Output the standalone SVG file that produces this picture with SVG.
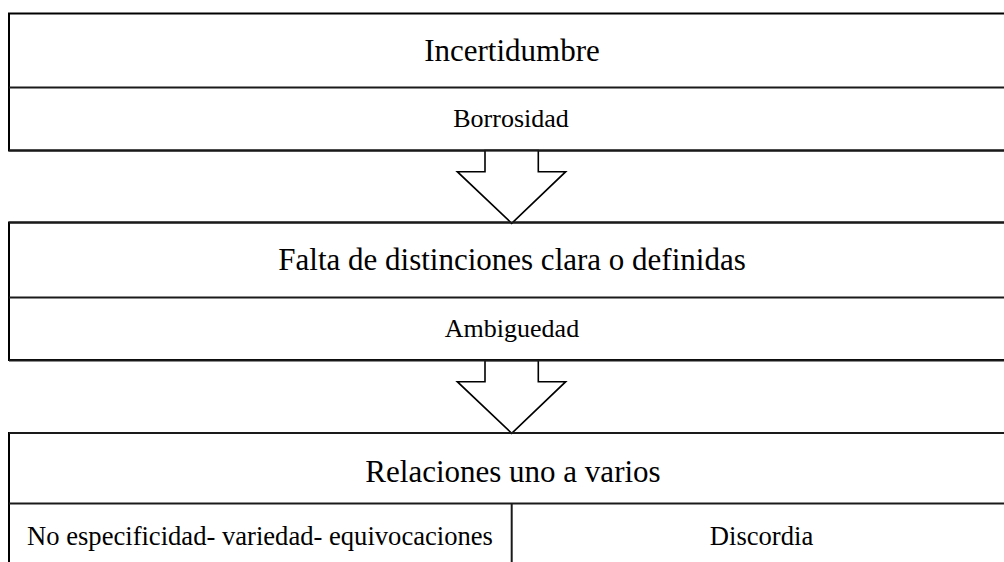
<svg xmlns="http://www.w3.org/2000/svg" width="1004" height="562" viewBox="0 0 1004 562">
<style>
.box{fill:#fff;stroke:#000;stroke-width:2}
.div{stroke:#1a1a1a;stroke-width:2;fill:none}
.arr{fill:#fff;stroke:#000;stroke-width:1.6;stroke-linejoin:miter}
.big{font-family:"Liberation Serif","Times New Roman",serif;font-size:31px;fill:#000;text-anchor:middle}
.small{font-family:"Liberation Serif","Times New Roman",serif;font-size:26px;fill:#000;text-anchor:middle}
.cell{font-family:"Liberation Serif","Times New Roman",serif;font-size:26.6px;fill:#000;text-anchor:middle}
</style>
<rect width="1004" height="562" fill="#fff"/>
<g id="node-incertidumbre">
<rect class="box" x="9" y="13.5" width="1006" height="137"/>
<line class="div" x1="9" y1="87.5" x2="1015" y2="87.5"/>
<text class="big" x="512" y="60.7">Incertidumbre</text>
<text class="small" x="511" y="126.7">Borrosidad</text>
</g>
<g id="node-falta">
<rect class="box" x="9" y="222.5" width="1006" height="137.5"/>
<line class="div" x1="9" y1="297.5" x2="1015" y2="297.5"/>
<text class="big" x="512" y="270">Falta de distinciones clara o definidas</text>
<text class="small" x="512" y="336.5">Ambiguedad</text>
</g>
<g id="node-relaciones">
<rect class="box" x="9" y="433" width="1006" height="150"/>
<line class="div" x1="9" y1="503.5" x2="1015" y2="503.5"/>
<line class="div" x1="511.7" y1="503.5" x2="511.7" y2="570"/>
<text class="big" x="513" y="481.5">Relaciones uno a varios</text>
<text class="cell" x="260" y="545">No especificidad- variedad- equivocaciones</text>
<text class="cell" x="761.5" y="545">Discordia</text>
</g>
<g id="connectors">
<polygon class="arr" points="485,150.5 538.3,150.5 538.3,171.7 565.7,171.7 511.7,223.3 457.3,171.7 485,171.7"/>
<polygon class="arr" points="485,360.5 538.3,360.5 538.3,381.7 565.7,381.7 511.7,433.3 457.3,381.7 485,381.7"/>
<line class="div" x1="9" y1="150.5" x2="1015" y2="150.5"/>
<line class="div" x1="9" y1="360.5" x2="1015" y2="360.5"/>
<line class="div" x1="9" y1="222.5" x2="1015" y2="222.5"/>
<line class="div" x1="9" y1="433" x2="1015" y2="433"/>
</g>
</svg>
